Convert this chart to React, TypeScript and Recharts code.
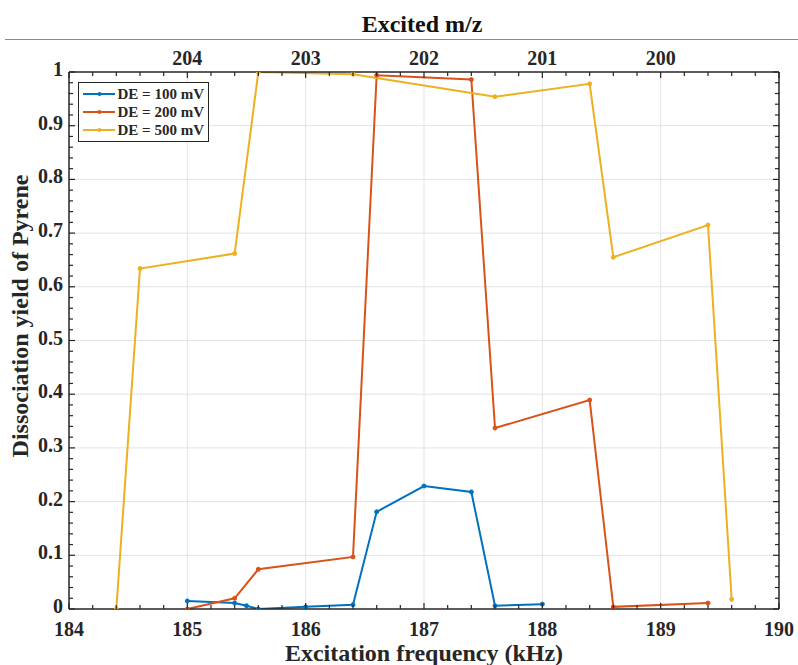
import React from 'react';
import { LineChart, Line, XAxis, YAxis, ReferenceLine, Legend } from 'recharts';

const blueFreq = [185.0, 185.4, 185.5, 185.6, 186.0, 186.4, 186.6, 187.0, 187.4, 187.6, 188.0];
const blueYield = [0.015, 0.011, 0.006, 0.0, 0.004, 0.008, 0.181, 0.229, 0.218, 0.006, 0.009];

const redFreq = [185.0, 185.4, 185.6, 186.4, 186.6, 187.4, 187.6, 188.4, 188.6, 189.4];
const redYield = [0.0, 0.02, 0.074, 0.097, 0.994, 0.986, 0.337, 0.389, 0.004, 0.011];

const yellowFreq = [184.4, 184.6, 185.4, 185.6, 186.4, 187.6, 188.4, 188.6, 189.4, 189.6];
const yellowYield = [0.0, 0.634, 0.662, 1.0, 0.996, 0.954, 0.978, 0.655, 0.715, 0.018];

const seriesNames = ['DE = 100 mV', 'DE = 200 mV', 'DE = 500 mV'];
const seriesColors = ['#0072BD', '#D95319', '#EDB120'];

const xMajorTicks = [184, 185, 186, 187, 188, 189, 190];
const yMajorTicks = [0, 0.1, 0.2, 0.3, 0.4, 0.5, 0.6, 0.7, 0.8, 0.9, 1];
const topTickValues = [185, 186, 187, 188, 189];
const topTickLabels = ['204', '203', '202', '201', '200'];

const titleText = 'Excited m/z';
const xTitle = 'Excitation frequency (kHz)';
const yTitle = 'Dissociation yield of Pyrene';

const range = (a: number, b: number, n: number) => {
  const out: number[] = [];
  for (let i = 0; i <= n; i++) out.push(+(a + ((b - a) * i) / n).toFixed(4));
  return out;
};
const xMinorTicks = range(184, 190, 30);
const yMinorTicks = range(0, 1, 50);

const toPts = (xs: number[], ys: number[]) => xs.map((x, i) => ({ x, y: ys[i] }));
const blueData = toPts(blueFreq, blueYield);
const redData = toPts(redFreq, redYield);
const yellowData = toPts(yellowFreq, yellowYield);

const FONT = '"Liberation Serif", "Times New Roman", serif';
const AX = '#262626';
const isMajor = (v: number, majors: number[]) => majors.some((m) => Math.abs(m - v) < 1e-6);

const BottomTick = (p: any) => {
  const { x, y, payload } = p;
  const v = payload.value;
  const major = isMajor(v, xMajorTicks);
  return (
    <g>
      <line x1={x} y1={y} x2={x} y2={y - (major ? 6 : 4)} stroke={AX} strokeWidth={1.2} />
      {major && (
        <text x={x} y={y + 27} textAnchor="middle" fontFamily={FONT} fontWeight="bold" fontSize={20} fill="#262626">
          {Math.round(v)}
        </text>
      )}
    </g>
  );
};

const TopTick = (p: any) => {
  const { x, y, payload } = p;
  const v = payload.value;
  const idx = topTickValues.findIndex((t) => Math.abs(t - v) < 1e-6);
  const major = isMajor(v, xMajorTicks);
  return (
    <g>
      <line x1={x} y1={y} x2={x} y2={y + (major ? 6 : 4)} stroke={AX} strokeWidth={1.2} />
      {idx >= 0 && (
        <text x={x} y={y - 7} textAnchor="middle" fontFamily={FONT} fontWeight="bold" fontSize={20} fill="#262626">
          {topTickLabels[idx]}
        </text>
      )}
    </g>
  );
};

const fmtY = (v: number) => (v === 0 ? '0' : v === 1 ? '1' : v.toFixed(1));

const LeftTick = (p: any) => {
  const { x, y, payload } = p;
  const v = payload.value;
  const major = isMajor(v, yMajorTicks);
  return (
    <g>
      <line x1={x} y1={y} x2={x + (major ? 6 : 4)} y2={y} stroke={AX} strokeWidth={1.2} />
      {major && (
        <text x={x - 6} y={y + 4} textAnchor="end" fontFamily={FONT} fontWeight="bold" fontSize={20} fill="#262626">
          {fmtY(v)}
        </text>
      )}
    </g>
  );
};

const RightTick = (p: any) => {
  const { x, y, payload } = p;
  const v = payload.value;
  const major = isMajor(v, yMajorTicks);
  return <line x1={x} y1={y} x2={x - (major ? 6 : 4)} y2={y} stroke={AX} strokeWidth={1.2} />;
};

const LegendBox = (props: any) => {
  const payload = props.payload || [];
  return (
    <div
      style={{
        border: '1.5px solid #262626',
        background: '#fff',
        padding: '2px 4px 2px 4px',
        fontFamily: FONT,
        fontWeight: 'bold',
        fontSize: 15,
        lineHeight: '18px',
        width: 121,
      }}
    >
      {payload.map((e: any, i: number) => (
        <div key={i} style={{ display: 'flex', alignItems: 'center', whiteSpace: 'nowrap' }}>
          <svg width={33} height={10} style={{ marginRight: 3 }}>
            <line x1={0} y1={5} x2={33} y2={5} stroke={e.color} strokeWidth={2} />
            <circle cx={16.5} cy={5} r={2} fill={e.color} />
          </svg>
          <span style={{ color: '#262626' }}>{e.value}</span>
        </div>
      ))}
    </div>
  );
};

export default function App() {
  return (
    <div style={{ position: 'absolute', left: 0, top: 0, width: 798, height: 665, background: '#fff', overflow: 'hidden' }}>
      <LineChart width={798} height={665} margin={{ top: 0, right: 18, bottom: 0, left: 0 }}>
        {xMajorTicks.slice(1, -1).map((v) => (
          <ReferenceLine key={'gx' + v} x={v} stroke="#e3e3e3" strokeWidth={1} />
        ))}
        {yMajorTicks.slice(1, -1).map((v) => (
          <ReferenceLine key={'gy' + v} y={v} stroke="#e3e3e3" strokeWidth={1} />
        ))}
        <XAxis
          dataKey="x"
          type="number"
          domain={[184, 190]}
          ticks={xMinorTicks}
          interval={0}
          allowDataOverflow
          height={56}
          tickSize={0}
          tickMargin={0}
          tickLine={false}
          axisLine={{ stroke: AX, strokeWidth: 1.5 }}
          tick={<BottomTick />}
        />
        <XAxis
          xAxisId="top"
          dataKey="x"
          orientation="top"
          type="number"
          domain={[184, 190]}
          ticks={xMinorTicks}
          interval={0}
          allowDataOverflow
          height={72}
          tickSize={0}
          tickMargin={0}
          tickLine={false}
          axisLine={{ stroke: AX, strokeWidth: 1.5 }}
          tick={<TopTick />}
        />
        <YAxis
          type="number"
          domain={[0, 1]}
          ticks={yMinorTicks}
          interval={0}
          allowDataOverflow
          width={69}
          tickSize={0}
          tickMargin={0}
          tickLine={false}
          axisLine={{ stroke: AX, strokeWidth: 1.5 }}
          tick={<LeftTick />}
        />
        <YAxis
          yAxisId="right"
          orientation="right"
          type="number"
          domain={[0, 1]}
          ticks={yMinorTicks}
          interval={0}
          allowDataOverflow
          width={1}
          tickSize={0}
          tickMargin={0}
          tickLine={false}
          axisLine={{ stroke: AX, strokeWidth: 1.5 }}
          tick={<RightTick />}
        />
        <Legend
          layout="horizontal"
          verticalAlign="middle"
          align="center"
          wrapperStyle={{ position: 'absolute', left: 78, top: 82, width: 'auto', height: 'auto' }}
          content={<LegendBox />}
        />
        <Line data={blueData} dataKey="y" name={seriesNames[0]} stroke={seriesColors[0]} strokeWidth={2}
          dot={{ r: 2, fill: seriesColors[0], stroke: seriesColors[0], strokeWidth: 1 }} isAnimationActive={false} />
        <Line data={redData} dataKey="y" name={seriesNames[1]} stroke={seriesColors[1]} strokeWidth={2}
          dot={{ r: 2, fill: seriesColors[1], stroke: seriesColors[1], strokeWidth: 1 }} isAnimationActive={false} />
        <Line data={yellowData} xAxisId="top" yAxisId="right" dataKey="y" name={seriesNames[2]} stroke={seriesColors[2]} strokeWidth={2}
          dot={{ r: 2, fill: seriesColors[2], stroke: seriesColors[2], strokeWidth: 1 }} isAnimationActive={false} />
      </LineChart>
      <svg width={798} height={665} style={{ position: 'absolute', left: 0, top: 0, pointerEvents: 'none' }}>
        <text x={422} y={32} textAnchor="middle" fontFamily={FONT} fontWeight="bold" fontSize={24} fill="#111">
          {titleText}
        </text>
        <line x1={5} y1={39.5} x2={798} y2={39.5} stroke="#8a8a8a" strokeWidth={1.2} />
        <text x={424} y={661} textAnchor="middle" fontFamily={FONT} fontWeight="bold" fontSize={24} fill="#262626">
          {xTitle}
        </text>
        <text
          x={0}
          y={0}
          transform="translate(28,316) rotate(-90)"
          textAnchor="middle"
          fontFamily={FONT}
          fontWeight="bold"
          fontSize={24}
          fill="#262626"
        >
          {yTitle}
        </text>
      </svg>
    </div>
  );
}
